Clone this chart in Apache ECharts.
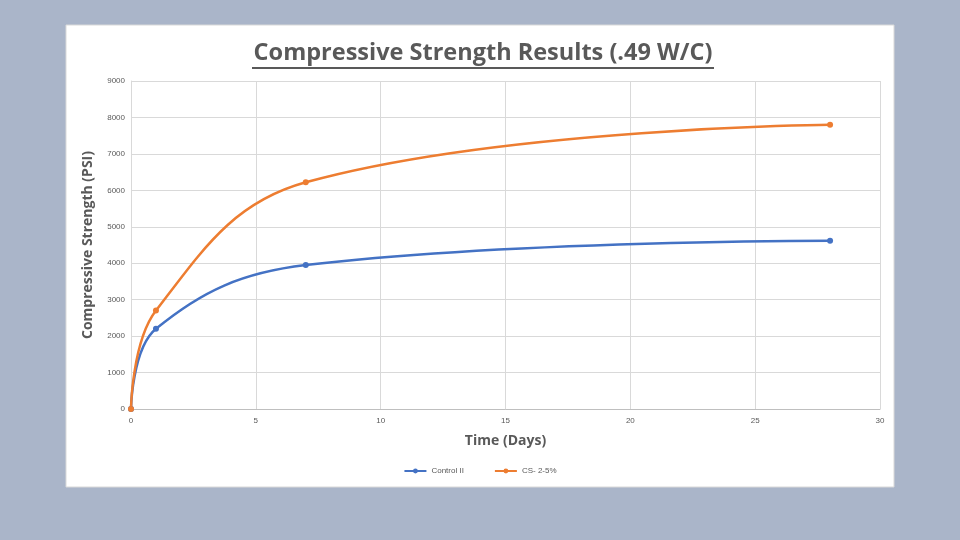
<!DOCTYPE html>
<html><head><meta charset="utf-8">
<script src="https://cdn.jsdelivr.net/npm/echarts@6/dist/echarts.min.js"></script>
<style>html,body{margin:0;padding:0;background:#aab5c9;}#c{width:960px;height:540px;}</style>
</head><body><div id="c"></div>
<script>
const days = [0, 1, 7, 28];
const controlII = [0, 2200, 3950, 4620];
const cs25 = [0, 2700, 6220, 7800];
const seriesNames = ['Control II', 'CS- 2-5%'];
const titleText = 'Compressive Strength Results (.49 W/C)';
const xTitle = 'Time (Days)';
const yTitle = 'Compressive Strength (PSI)';

const chart = echarts.init(document.getElementById('c'));
const pair = (xs, ys) => xs.map((x, i) => [x, ys[i]]);
chart.setOption({
  backgroundColor: '#aab5c9',
  animation: false,
  graphic: [
    {type: 'rect', z: -10, shape: {x: 66, y: 25, width: 828, height: 462}, style: {fill: '#ffffff', stroke: '#d9d9d9'}},
    {type: 'text', x: 483, y: 53, style: {text: titleText, font: 'bold 23.5px "Open Sans"', fill: '#595959', align: 'center', verticalAlign: 'middle'}},
    {type: 'line', shape: {x1: 252, y1: 68, x2: 714, y2: 68}, style: {stroke: '#595959', lineWidth: 2}}
  ],
  grid: {left: 131, right: 80, top: 81, bottom: 131},
  legend: {
    bottom: 60, left: 'center', itemWidth: 22, itemHeight: 6, itemGap: 30,
    textStyle: {fontSize: 8, color: '#595959'},
    data: seriesNames
  },
  xAxis: {
    type: 'value', min: 0, max: 30, interval: 5,
    name: xTitle, nameLocation: 'middle', nameGap: 25,
    nameTextStyle: {fontSize: 14, fontWeight: 'bold', color: '#595959', fontFamily: 'Open Sans'},
    axisLine: {show: true, lineStyle: {color: '#bfbfbf'}},
    axisTick: {show: false},
    axisLabel: {fontSize: 8, color: '#595959', margin: 8},
    splitLine: {show: true, lineStyle: {color: '#d9d9d9'}}
  },
  yAxis: {
    type: 'value', min: 0, max: 9000, interval: 1000,
    name: yTitle, nameLocation: 'middle', nameGap: 36,
    nameTextStyle: {fontSize: 14, fontWeight: 'bold', color: '#595959', fontFamily: 'Open Sans'},
    axisLine: {show: true, lineStyle: {color: '#d9d9d9'}},
    axisTick: {show: false},
    axisLabel: {fontSize: 8, color: '#595959', margin: 6, formatter: v => String(v)},
    splitLine: {show: true, lineStyle: {color: '#d9d9d9'}}
  },
  series: [
    {name: seriesNames[0], type: 'line', smooth: 0.4, data: pair(days, controlII),
     symbol: 'circle', symbolSize: 6, color: '#4472c4', lineStyle: {width: 2.5}},
    {name: seriesNames[1], type: 'line', smooth: 0.4, data: pair(days, cs25),
     symbol: 'circle', symbolSize: 6, color: '#ed7d31', lineStyle: {width: 2.5}}
  ]
});
</script></body></html>
